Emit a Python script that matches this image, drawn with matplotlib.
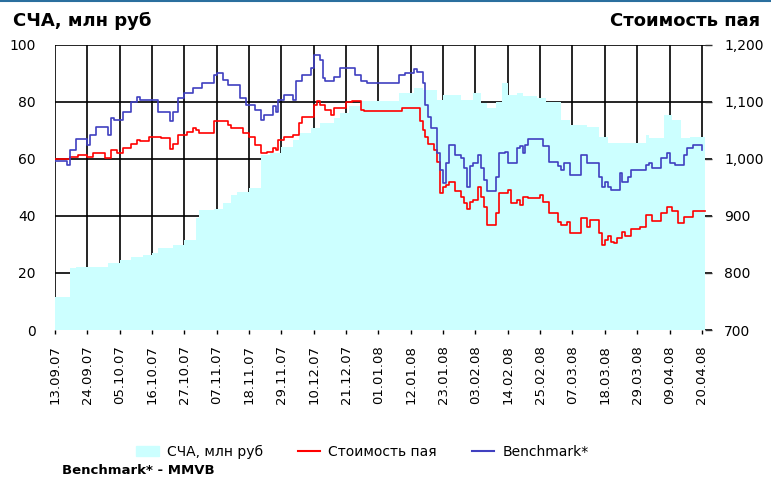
import numpy as np
import matplotlib.pyplot as plt
from matplotlib.patches import Patch
from matplotlib.lines import Line2D

# x = days since 13.09.2007
tick_labels = ['13.09.07', '24.09.07', '05.10.07', '16.10.07', '27.10.07', '07.11.07',
               '18.11.07', '29.11.07', '10.12.07', '21.12.07', '01.01.08', '12.01.08',
               '23.01.08', '03.02.08', '14.02.08', '25.02.08', '07.03.08', '18.03.08',
               '29.03.08', '09.04.08', '20.04.08']

# СЧА, млн руб (left axis)
nav_day = [0, 5, 7, 18, 22, 26, 30, 33, 35, 40, 44, 48, 49, 54, 57, 60, 62, 66, 70, 73,
           77, 81, 83, 87, 90, 95, 97, 100, 104, 117, 122, 125, 130, 132, 138, 142, 145,
           147, 150, 152, 154, 157, 159, 164, 167, 172, 175, 181, 185, 188, 201, 202,
           207, 210, 213, 216, 221]
nav_val = [11.7, 21.6, 22.2, 23.6, 24.6, 25.5, 26.3, 26.9, 28.7, 29.8, 31.6, 39.2, 42.1,
           42.5, 44.4, 47.4, 48.5, 49.7, 61.4, 62.0, 64.3, 66.7, 69.0, 70.8, 72.5, 74.3,
           76.0, 78.4, 80.4, 83.0, 84.8, 84.2, 80.7, 82.5, 80.7, 83.0, 79.5, 77.8, 80.1,
           86.5, 82.5, 83.0, 81.9, 81.3, 80.0, 73.7, 71.9, 71.3, 67.8, 65.7, 68.4, 67.3,
           75.4, 73.7, 67.3, 67.8, 67.8]

# Стоимость пая (right axis)
unit_day = [0, 5, 8, 11, 13, 17, 19, 21, 23, 26, 28, 29, 32, 36, 39, 40, 42, 45, 47, 48,
            49, 54, 59, 60, 64, 66, 68, 70, 72, 74, 75, 76, 78, 81, 83, 84, 88, 89, 90,
            92, 94, 95, 99, 101, 104, 105, 118, 124, 125, 126, 127, 129, 130, 131, 132,
            133, 134, 136, 138, 139, 140, 141, 142, 144, 145, 146, 147, 150, 151, 154,
            155, 157, 158, 159, 161, 165, 166, 168, 171, 172, 174, 175, 179, 181, 182,
            185, 186, 187, 188, 189, 190, 191, 193, 194, 196, 199, 201, 203, 206, 208,
            210, 212, 214, 217, 221]
unit_val = [1000, 1003, 1007, 1004, 1011, 1002, 1016, 1010, 1019, 1026, 1033, 1031, 1039,
            1036, 1017, 1027, 1042, 1048, 1054, 1051, 1045, 1066, 1060, 1054, 1045, 1039,
            1025, 1010, 1013, 1019, 1016, 1033, 1039, 1042, 1063, 1073, 1095, 1102, 1095,
            1086, 1077, 1089, 1100, 1102, 1086, 1084, 1089, 1066, 1051, 1039, 1027, 1016,
            995, 940, 951, 954, 960, 943, 934, 922, 913, 925, 928, 951, 934, 916, 884,
            905, 940, 946, 922, 928, 919, 934, 931, 937, 925, 905, 890, 884, 890, 870,
            896, 881, 893, 870, 849, 858, 864, 855, 852, 862, 871, 864, 877, 881, 902,
            892, 905, 916, 909, 888, 899, 909, 909]

# Benchmark* (right axis)
bench_day = [0, 4, 5, 7, 11, 12, 14, 18, 19, 20, 23, 26, 28, 29, 35, 39, 40, 42, 44, 47,
             50, 54, 55, 57, 59, 63, 65, 68, 70, 71, 74, 75, 76, 78, 81, 82, 84, 87, 88,
             90, 91, 92, 95, 97, 102, 104, 106, 117, 119, 122, 123, 125, 126, 127, 128,
             130, 131, 132, 133, 134, 136, 138, 139, 140, 141, 142, 144, 145, 146, 147,
             150, 151, 153, 154, 157, 158, 159, 160, 161, 166, 168, 171, 172, 173, 175,
             179, 181, 185, 186, 187, 188, 189, 192, 193, 195, 196, 201, 202, 203, 206,
             208, 209, 211, 214, 215, 217, 220]
bench_val = [997, 990, 1016, 1035, 1025, 1042, 1056, 1042, 1071, 1068, 1083, 1099, 1108,
             1104, 1083, 1066, 1083, 1106, 1115, 1124, 1133, 1147, 1150, 1139, 1130, 1106,
             1095, 1086, 1068, 1077, 1092, 1083, 1104, 1112, 1104, 1136, 1147, 1159, 1182,
             1174, 1142, 1136, 1144, 1159, 1147, 1136, 1134, 1147, 1151, 1157, 1153, 1133,
             1095, 1074, 1054, 1010, 981, 957, 992, 1025, 1007, 1001, 984, 951, 987, 992,
             1007, 984, 963, 943, 969, 1010, 1013, 992, 1019, 1022, 1010, 1025, 1035,
             1022, 995, 987, 981, 992, 972, 1007, 992, 969, 951, 960, 951, 946, 975, 960,
             969, 980, 989, 992, 984, 1001, 1010, 992, 989, 1007, 1019, 1025, 1016]

tick_days = np.arange(len(tick_labels)) * 11

fig = plt.figure(figsize=(7.71, 4.8), dpi=100)
ax = fig.add_axes([0.0713, 0.3125, 0.852, 0.594])
ax2 = ax.twinx()

ax.fill_between(nav_day, nav_val, step='post', color='#ccffff', lw=0, zorder=2)
ax2.plot(unit_day, unit_val, drawstyle='steps-post', color='#ff0000', lw=1.2)
ax2.plot(bench_day, bench_val, drawstyle='steps-post', color='#4040c0', lw=1.2)

ax.set_xlim(0, 223.4)
ax.set_ylim(0, 100)
ax2.set_ylim(700, 1200)
ax.set_yticks(range(0, 101, 20))
ax2.set_yticks(range(700, 1201, 100))
ax2.set_yticklabels(['700', '800', '900', '1,000', '1,100', '1,200'])
ax.set_xticks(tick_days)
ax.set_xticklabels(tick_labels, rotation=90, fontsize=9.5)

ax.set_axisbelow(True)
ax.grid(True, color='black', lw=1.2)
for a in (ax, ax2):
    for s in a.spines.values():
        s.set_visible(False)
ax.tick_params(axis='y', length=0, pad=14, labelsize=10)
ax.tick_params(axis='x', direction='out', length=3, width=1, pad=8)
ax2.tick_params(axis='y', direction='in', length=5, width=1, pad=9, labelsize=10,
                color='#333333')

fig.text(0.0165, 0.946, 'СЧА, млн руб', fontsize=13, fontweight='bold',
         family='DejaVu Sans', va='baseline')
fig.text(0.986, 0.946, 'Стоимость пая', fontsize=13, fontweight='bold',
         family='DejaVu Sans', va='baseline', ha='right')
fig.add_artist(Line2D([0, 1], [0.997, 0.997], color='#2a6f9e', lw=1.5))

handles = [Patch(color='#ccffff', label='СЧА, млн руб'),
           Line2D([], [], color='#ff0000', lw=1.5, label='Стоимость пая'),
           Line2D([], [], color='#4040c0', lw=1.5, label='Benchmark*')]
fig.legend(handles=handles, loc='center', bbox_to_anchor=(0.47, 0.058), ncol=3,
           frameon=False, fontsize=10, handlelength=1.6, columnspacing=2.5,
           handletextpad=0.6)
fig.text(0.08, 0.02, 'Benchmark* - MMVB', fontsize=9.5, fontweight='bold',
         family='DejaVu Sans', va='center')

fig.savefig('out.png', dpi=100)
